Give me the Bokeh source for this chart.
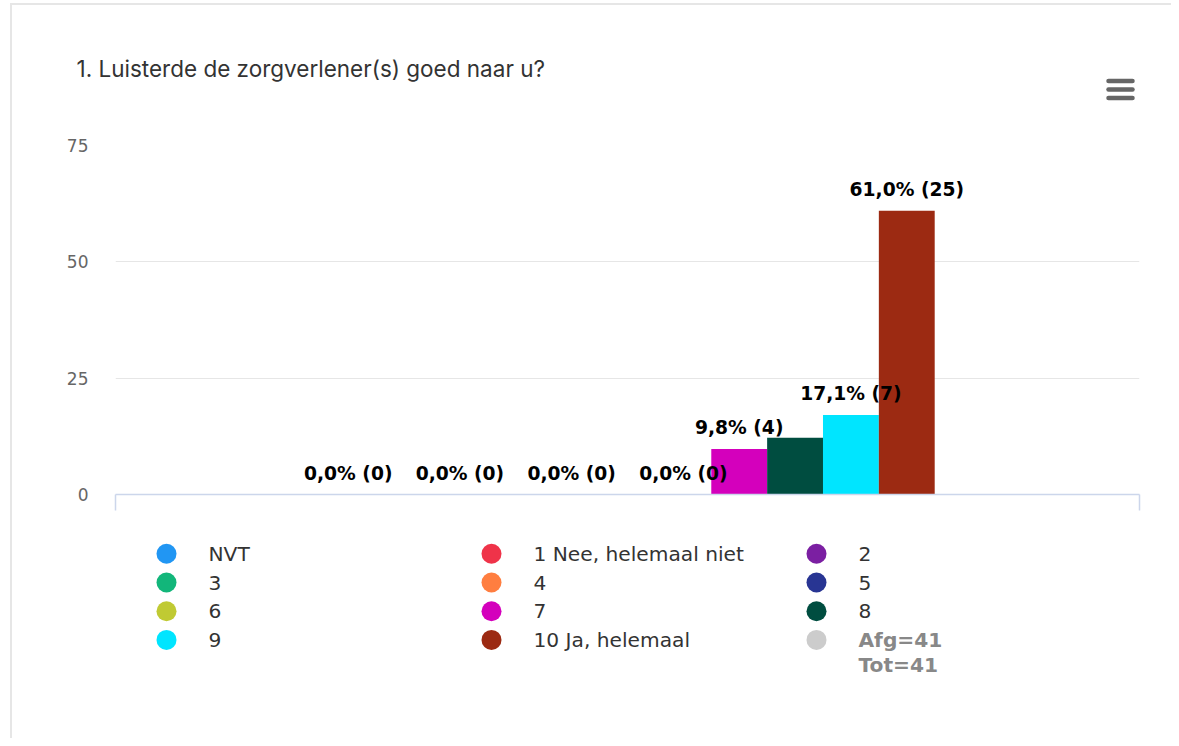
from bokeh.plotting import figure
from bokeh.layouts import column
from bokeh.models import Range1d, FixedTicker, ColumnDataSource, CustomLabelingPolicy
from bokeh.core.properties import value
from bokeh.embed import file_html
from bokeh.resources import INLINE

# ---------------- data ----------------
title_text = "1. Luisterde de zorgverlener(s) goed naar u?"
categories = ["NVT", "1 Nee, helemaal niet", "2", "3", "4", "5", "6", "7", "8", "9", "10 Ja, helemaal"]
counts = [0, 0, 0, 0, 0, 0, 0, 4, 5, 7, 25]
percentages = [0.0, 0.0, 0.0, 0.0, 0.0, 0.0, 0.0, 9.8, 12.2, 17.1, 61.0]
colors = ["#2196F3", "#EF3349", "#7B1FA2", "#12B67A", "#FF7E40", "#283593",
          "#C0CA33", "#D400BC", "#004D40", "#00E5FF", "#9C2A12"]
extra_label = "Afg=41\nTot=41"
extra_color = "#CCCCCC"
y_ticks = [0, 25, 50, 75]

# ---------------- layout constants (page pixels) ----------------
W = 1171
HEAD_H = 128
FRAME_L, FRAME_R = 115, 32
FRAME_T, FRAME_B = 17, 26
FRAME_W, FRAME_H = W - FRAME_L - FRAME_R, 349
MAIN_H = FRAME_T + FRAME_H + FRAME_B
LEG_H = 218

LABEL_FONT_PX = 18.7
LABEL_OFFSET = 21


def label_of(p, c):
    return ("%.1f" % p).replace(".", ",") + "% (" + str(c) + ")"


def prep(f):
    try:
        f.frame_align = False
    except Exception:
        pass
    f.title.visible = False
    f.outline_line_color = None
    f.border_fill_color = None
    f.background_fill_color = None


def blank_fig(w, h):
    f = figure(width=w, height=h, x_range=Range1d(0, w), y_range=Range1d(h, 0),
               output_backend="svg", toolbar_location=None,
               min_border=0, min_border_left=0, min_border_right=0,
               min_border_top=0, min_border_bottom=0)
    prep(f)
    f.axis.visible = False
    f.grid.visible = False
    return f


# ---------------- header ----------------
head = blank_fig(W, HEAD_H)
head.text(x=[76], y=[68], text=[title_text], text_font=value("Inter"), text_font_size="22.5px",
          text_color="#333333", text_baseline="middle", text_align="left")
head.segment(x0=[1108, 1108, 1108], y0=[80.5, 89, 97.5], x1=[1132, 1132, 1132], y1=[80.5, 89, 97.5],
             line_color="#666666", line_width=4.5, line_cap="round")

# ---------------- main chart ----------------
n = len(categories)
pad = n / 3.0
x0, x1 = -0.5 - pad, n - 0.5 + pad
p = figure(width=W, height=MAIN_H, x_range=Range1d(x0, x1), y_range=Range1d(0, 75),
           output_backend="svg", toolbar_location=None,
           min_border_left=FRAME_L, min_border_right=FRAME_R,
           min_border_top=FRAME_T, min_border_bottom=FRAME_B)
prep(p)
p.xgrid.visible = False
p.ygrid.ticker = FixedTicker(ticks=y_ticks)
p.ygrid.grid_line_color = "#e6e6e6"
p.ygrid.grid_line_width = 1

p.yaxis.ticker = FixedTicker(ticks=y_ticks)
p.yaxis.axis_line_color = None
p.yaxis.major_tick_line_color = None
p.yaxis.minor_tick_line_color = None
p.yaxis.major_tick_out = 0
p.yaxis.major_tick_in = 0
p.yaxis.major_label_standoff = 27
p.yaxis.major_label_text_font = "DejaVu Sans"
p.yaxis.major_label_text_font_size = "17px"
p.yaxis.major_label_text_color = "#666666"

p.xaxis.ticker = FixedTicker(ticks=[x0, x1])
p.xaxis.axis_line_color = "#ccd6eb"
p.xaxis.axis_line_width = 1.5
p.xaxis.major_tick_line_color = "#ccd6eb"
p.xaxis.major_tick_line_width = 1.5
p.xaxis.major_tick_out = 16
p.xaxis.major_tick_in = 0
p.xaxis.minor_tick_line_color = None
p.xaxis.major_label_text_font_size = "8px"
p.xaxis.major_label_standoff = 0
p.xaxis.major_label_policy = CustomLabelingPolicy(
    code="for (const i of indices) indices.unset(i); return indices")

xs = list(range(n))
src = ColumnDataSource(dict(x=xs, top=percentages, color=colors, name=categories))
p.vbar(x="x", top="top", width=1, source=src, fill_color="color", line_color=None)

# data labels with simple overlap hiding (greedy, left to right)
px_x = FRAME_W / (x1 - x0)
px_y = FRAME_H / 75.0
labels = [label_of(v, c) for v, c in zip(percentages, counts)]
kept = []
boxes = []
for i, (v, lab) in enumerate(zip(percentages, labels)):
    cx = xs[i] * px_x
    w = len(lab) * 0.6 * LABEL_FONT_PX
    b = v * px_y + LABEL_OFFSET - 10
    box = (cx - w / 2, cx + w / 2, b, b + 20)
    ok = all(box[1] <= q[0] or box[0] >= q[1] or box[3] <= q[2] or box[2] >= q[3] for q in boxes)
    if ok:
        boxes.append(box)
        kept.append(i)
lsrc = ColumnDataSource(dict(x=[xs[i] for i in kept], y=[percentages[i] for i in kept],
                             text=[labels[i] for i in kept]))
p.text(x="x", y="y", text="text", source=lsrc, text_font=value("DejaVu Sans"),
       text_font_style="bold", text_font_size="%.1fpx" % LABEL_FONT_PX, text_color="#000000",
       text_align="center", text_baseline="middle", y_offset=-LABEL_OFFSET)

# ---------------- legend ----------------
leg = blank_fig(W, LEG_H)
items = categories + [extra_label]
item_colors = colors + [extra_color]
cols = [i % 3 for i in range(len(items))]
rows = [i // 3 for i in range(len(items))]
sym_x = [166 + 325 * c for c in cols]
row_y = [33.3 + 28.7 * r for r in rows]
leg.scatter(x=sym_x, y=row_y, size=20, marker="circle", fill_color=item_colors, line_color=None)
m = len(categories)
leg.text(x=[sx + 42 for sx in sym_x[:m]], y=row_y[:m], text=items[:m],
         text_font=value("DejaVu Sans"), text_font_size="20.2px", text_color="#333333",
         text_baseline="middle", text_align="left")
leg.text(x=[sym_x[m] + 42], y=[row_y[m]], text=[extra_label], y_offset=[12.5],
         text_font=value("DejaVu Sans"), text_font_style="bold", text_font_size="20.2px",
         text_color="#888888", text_baseline="middle", text_align="left", text_line_height=1.07)

card = ("linear-gradient(#e6e6e6, #e6e6e6) 10px 3px / 2px 100% no-repeat, "
        "linear-gradient(#e6e6e6, #e6e6e6) 10px 3px / 100% 2px no-repeat")
layout = column(head, p, leg, spacing=0, styles={"background": card})
open("out.html", "w").write(file_html(layout, INLINE))
